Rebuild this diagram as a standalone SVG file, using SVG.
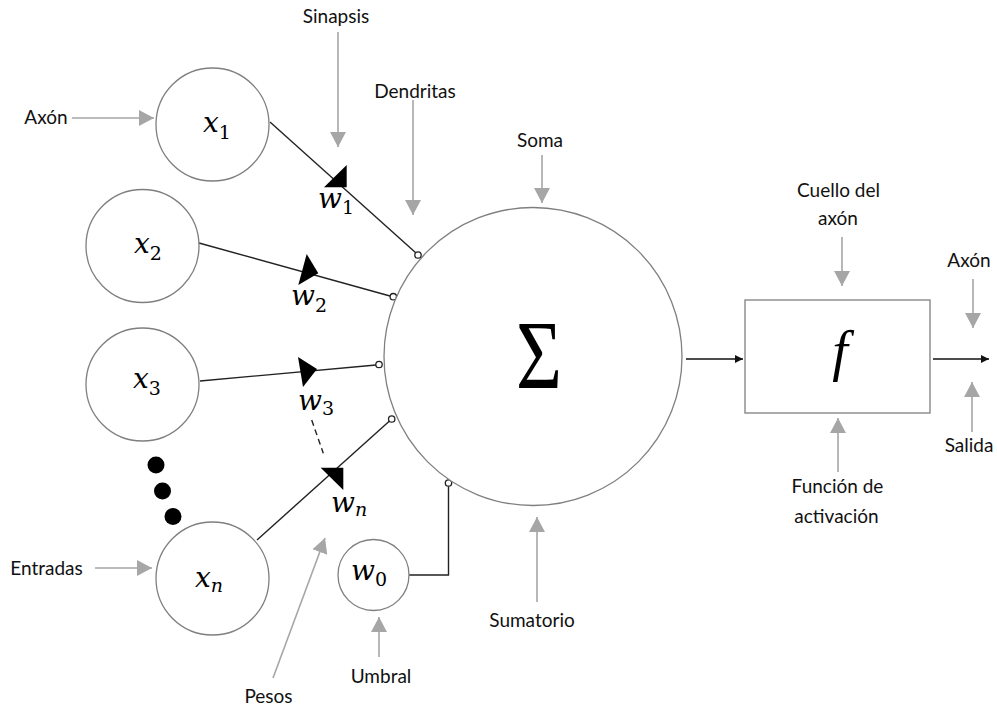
<svg xmlns="http://www.w3.org/2000/svg" width="997" height="706" viewBox="0 0 997 706">
<defs>
<style>
.node{fill:#fff;stroke:#7f7f7f;stroke-width:1.3}
.lbl{font-family:Lato,"Liberation Sans",sans-serif;font-size:19px;fill:#111;text-anchor:middle}
.m{font-family:"DejaVu Serif",serif;font-style:italic;font-size:28px;fill:#000}
.sub{font-family:"DejaVu Serif",serif;font-size:19px;font-style:normal}
.subi{font-family:"DejaVu Serif",serif;font-size:19px;font-style:italic}
.wire{stroke:#222;stroke-width:1.4;fill:none}
.term{fill:#fff;stroke:#222;stroke-width:1.3}
.ga{stroke:#a6a6a6;stroke-width:1.6;fill:none;marker-end:url(#gh)}
.ba{stroke:#111;stroke-width:1.4;fill:none;marker-end:url(#bh)}
.head{fill:#000}
</style>
<marker id="gh" viewBox="0 0 15 16" markerWidth="15" markerHeight="16" refX="15" refY="8" markerUnits="userSpaceOnUse" orient="auto">
<path d="M0,0 L15,8 L0,16 z" fill="#a6a6a6"/>
</marker>
<marker id="bh" viewBox="0 0 8 8" markerWidth="8" markerHeight="8" refX="8" refY="4" markerUnits="userSpaceOnUse" orient="auto">
<path d="M0,0 L8,4 L0,8 z" fill="#111"/>
</marker>
</defs>
<rect width="997" height="706" fill="#fff"/>

<g id="connectors">
<line class="wire" x1="270" y1="122" x2="416" y2="253"/>
<line class="wire" x1="199" y1="243" x2="390" y2="296"/>
<line class="wire" x1="200" y1="381" x2="376" y2="365"/>
<line class="wire" x1="257" y1="540" x2="389.5" y2="421"/>
<polyline class="wire" points="409,575 448.5,575 448.5,486.3"/>
<line class="wire" x1="311.7" y1="420" x2="323.3" y2="453.3" stroke-width="1.7" stroke-dasharray="6,4"/>
<polygon class="head" points="324,187.3 346.7,165 346.7,187.3"/>
<polygon class="head" points="306.7,254 298.3,285 318.3,273.3"/>
<polygon class="head" points="298,357 303,387 317,369"/>
<polygon class="head" points="320.7,467.7 343.3,467.7 343.3,490"/>
<circle class="term" cx="418" cy="255" r="3.2"/>
<circle class="term" cx="393.3" cy="296.7" r="3.2"/>
<circle class="term" cx="379" cy="364.5" r="3.2"/>
<circle class="term" cx="391.7" cy="419" r="3.2"/>
<circle class="term" cx="448.5" cy="483" r="3.2"/>
<line class="ba" x1="686" y1="359" x2="743" y2="359"/>
<line class="ba" x1="933" y1="359" x2="989" y2="359"/>
<line class="ga" x1="72" y1="118" x2="154" y2="118"/>
<line class="ga" x1="338" y1="32" x2="338" y2="147"/>
<line class="ga" x1="413" y1="100" x2="413" y2="215"/>
<line class="ga" x1="542" y1="155" x2="542" y2="203"/>
<line class="ga" x1="842" y1="237" x2="842" y2="286"/>
<line class="ga" x1="973" y1="279" x2="973" y2="328"/>
<line class="ga" x1="972" y1="432" x2="972" y2="382"/>
<line class="ga" x1="838" y1="472" x2="838" y2="418"/>
<line class="ga" x1="537" y1="602" x2="537" y2="517"/>
<line class="ga" x1="379" y1="657" x2="379" y2="617"/>
<line class="ga" x1="95" y1="568" x2="152" y2="568"/>
<line class="ga" x1="273" y1="678" x2="325" y2="538"/>
</g>

<g id="x1"><circle class="node" cx="212.5" cy="124.5" r="56.5"/><text class="m" x="203" y="132">x<tspan class="sub" dy="7">1</tspan></text></g>
<g id="x2"><circle class="node" cx="142.5" cy="246" r="56.5"/><text class="m" x="134" y="253">x<tspan class="sub" dy="7">2</tspan></text></g>
<g id="x3"><circle class="node" cx="142.5" cy="384.5" r="56.5"/><text class="m" x="133" y="388">x<tspan class="sub" dy="7">3</tspan></text></g>
<g id="xn"><circle class="node" cx="212.5" cy="578.5" r="56.5"/><text class="m" x="195" y="587">x<tspan class="subi" dy="5">n</tspan></text></g>
<g id="dots"><circle cx="156" cy="465" r="8.5" fill="#000"/><circle cx="162.5" cy="491" r="8.5" fill="#000"/><circle cx="173" cy="516.5" r="8.5" fill="#000"/></g>
<g id="w0"><circle class="node" cx="373.5" cy="575" r="35.5"/><text class="m" x="351" y="580">w<tspan class="sub" dy="6">0</tspan></text></g>
<g id="soma"><circle class="node" cx="533" cy="356.5" r="149"/><text x="516" y="388" font-family="Liberation Serif,serif" font-size="97" textLength="46" lengthAdjust="spacingAndGlyphs">Σ</text></g>
<g id="activation"><rect class="node" x="745" y="300" width="185" height="113"/><text x="840" y="370" font-family="Liberation Serif,serif" font-style="italic" font-size="56" text-anchor="middle">f</text></g>

<g id="weights">
<text class="m" x="318" y="208">w<tspan class="sub" dy="6">1</tspan></text>
<text class="m" x="291" y="305">w<tspan class="sub" dy="7">2</tspan></text>
<text class="m" x="298" y="410">w<tspan class="sub" dy="5">3</tspan></text>
<text class="m" x="331" y="512">w<tspan class="subi" dy="4">n</tspan></text>
</g>

<g id="labels">
<text class="lbl" x="336" y="22.5">Sinapsis</text>
<text class="lbl" x="415" y="98">Dendritas</text>
<text class="lbl" x="46" y="124">Axón</text>
<text class="lbl" x="540" y="147">Soma</text>
<text class="lbl" x="838.5" y="197">Cuello del</text>
<text class="lbl" x="838" y="225">axón</text>
<text class="lbl" x="969" y="267">Axón</text>
<text class="lbl" x="969" y="452">Salida</text>
<text class="lbl" x="837.5" y="493">Función de</text>
<text class="lbl" x="836.5" y="523">activación</text>
<text class="lbl" x="532" y="627">Sumatorio</text>
<text class="lbl" x="381" y="683">Umbral</text>
<text class="lbl" x="46.5" y="575">Entradas</text>
<text class="lbl" x="268.5" y="703">Pesos</text>
</g>
</svg>
